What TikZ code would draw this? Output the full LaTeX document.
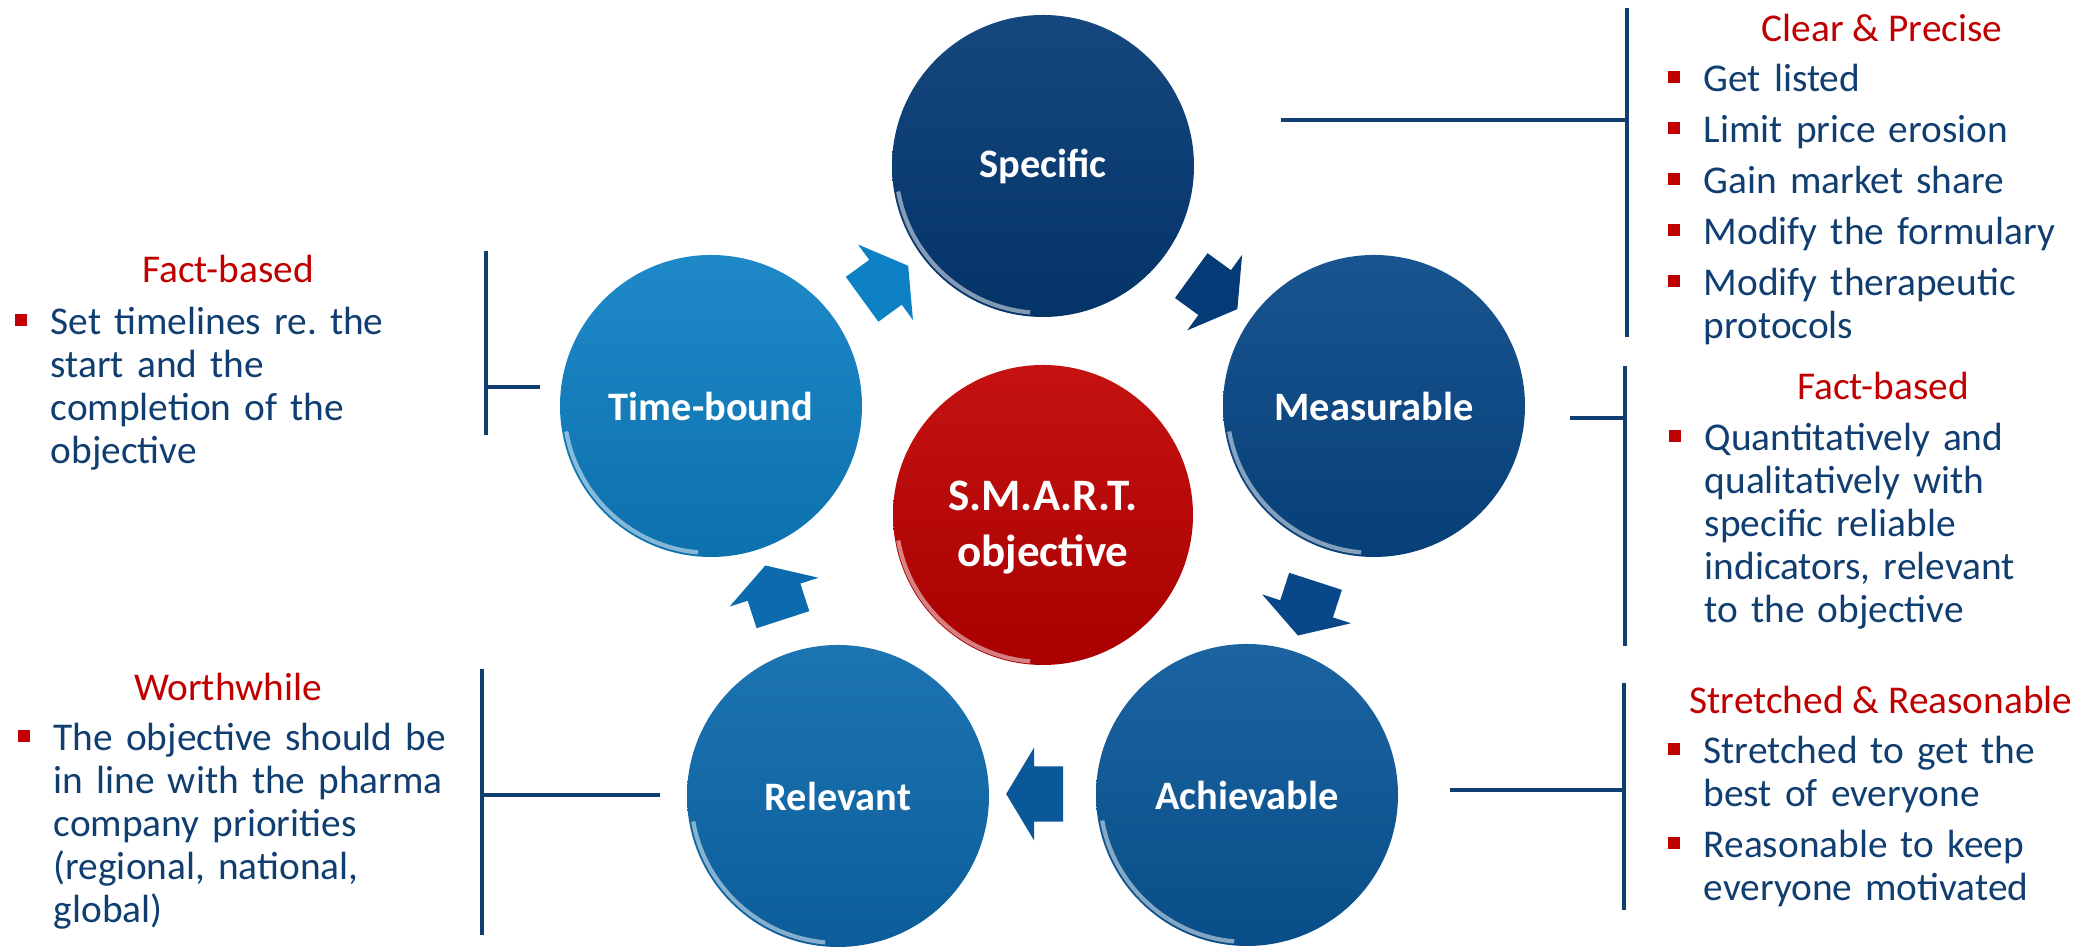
\documentclass[tikz,border=0pt]{standalone}
\usepackage{fontspec}
\setmainfont{Carlito}
\definecolor{smartRed}{RGB}{192,0,0}
\definecolor{smartNavy}{RGB}{16,62,112}
\definecolor{specBlue}{RGB}{4,58,117}
\definecolor{measBlue}{RGB}{8,72,136}
\definecolor{achvBlue}{RGB}{10,88,154}
\definecolor{relvBlue}{RGB}{12,106,174}
\definecolor{timeBlue}{RGB}{14,128,196}
\usepackage{tikz}
\usetikzlibrary{shapes,arrows.meta,positioning,calc}

\newcommand\smartitem[1]{\parskip=0.08cm\hangindent=0.36cm\hangafter=1\noindent
  \makebox[0.36cm][l]{\textcolor{smartRed}{\rule[0.09cm]{0.12cm}{0.12cm}}}#1\par}

\begin{document}
\begin{tikzpicture}[
    ball/.style={circle, minimum size=3.02cm, inner sep=0pt, text=white,
      font=\bfseries\fontsize{11.5pt}{13pt}\selectfont,
      top color=#1!93!white, bottom color=#1!88!black,
      path picture={\draw[white, opacity=.5, line width=1.2pt]
        ([shift={(190:1.47cm)}]path picture bounding box.center)
        arc[start angle=190, end angle=265, radius=1.47cm];}},
    turn/.style={single arrow, minimum height=0.57cm, minimum width=0.92cm,
      single arrow head extend=0.19cm, single arrow tip angle=118,
      inner xsep=0pt, inner ysep=0.27cm, fill=#1},
    heading/.style={anchor=base, text=smartRed,
      font=\fontsize{11.2pt}{0.43cm}\selectfont},
    points/.style={anchor=base west, text width=4.6cm, align=left, inner sep=0pt,
      text=smartNavy, font=\fontsize{11.2pt}{0.43cm}\selectfont},
    bracket/.style={draw=smartNavy, line width=1pt}]
  \useasboundingbox (0,0) rectangle (21,9.48);

  % The cycle
  \coordinate (cyc) at (10.43,4.34);
  \node[ball=smartRed, minimum size=3.0cm,
        label={[text=white, align=center, yshift=-0.13cm,
                font=\bfseries\fontsize{12.8pt}{0.56cm}\selectfont]center:S.M.A.R.T.\\objective}]
    (smart) at (10.43,4.33) {};
  \node[ball=specBlue] (spec) at (10.43,7.82) {Specific};
  \node[ball=measBlue] (meas) at (13.74,5.42) {Measurable};
  \node[ball=achvBlue] (achv) at (12.47,1.53) {Achievable};
  \node[ball=relvBlue] (relv) at (8.38,1.52) {Relevant};
  \node[ball=timeBlue] (time) at (7.11,5.42) {Time-bound};

  % Block arrows between the steps
  \node[turn=timeBlue, rotate=36] (tospec) at ([shift={(126:2.8)}]cyc) {};
  \node[turn=specBlue, rotate=-36] (tomeas) at ([shift={(54:2.8)}]cyc) {};
  \node[turn=measBlue, rotate=-108] (toachv) at ([shift={(-18:2.8)}]cyc) {};
  \node[turn=achvBlue, rotate=180] (torelv) at ([shift={(-90:2.8)}]cyc) {};
  \node[turn=relvBlue, rotate=108] (totime) at ([shift={(198:2.8)}]cyc) {};

  % Brackets
  \coordinate (specTop) at (16.27,9.40);
  \coordinate (specBot) at (16.27,6.11);
  \coordinate (specStub) at (12.81,8.28);
  \draw[bracket] (specTop) -- (specBot);
  \draw[bracket] (specStub) -- (specStub -| specTop);
  \coordinate (measTop) at (16.25,5.82);
  \coordinate (measBot) at (16.25,3.02);
  \coordinate (measStub) at (15.70,5.30);
  \draw[bracket] (measTop) -- (measBot);
  \draw[bracket] (measStub) -- (measStub -| measTop);
  \coordinate (achvTop) at (16.24,2.65);
  \coordinate (achvBot) at (16.24,0.38);
  \coordinate (achvStub) at (14.50,1.58);
  \draw[bracket] (achvTop) -- (achvBot);
  \draw[bracket] (achvStub) -- (achvStub -| achvTop);
  \coordinate (timeTop) at (4.86,6.97);
  \coordinate (timeBot) at (4.86,5.13);
  \coordinate (timeStub) at (5.40,5.61);
  \draw[bracket] (timeTop) -- (timeBot);
  \draw[bracket] (timeStub) -- (timeStub -| timeTop);
  \coordinate (relvTop) at (4.82,2.79);
  \coordinate (relvBot) at (4.82,0.13);
  \coordinate (relvStub) at (6.60,1.53);
  \draw[bracket] (relvTop) -- (relvBot);
  \draw[bracket] (relvStub) -- (relvStub -| relvTop);

  % Notes
  \node[heading] (specHead) at (18.82,9.06) {Clear \& Precise};
  \node[points] (specNote) at (16.67,8.56)
    {\smartitem{Get listed}\smartitem{Limit price erosion}%
     \smartitem{Gain market share}\smartitem{Modify the formulary}%
     \smartitem{Modify therapeutic\newline protocols}};
  \node[heading] (measHead) at (18.83,5.48) {Fact-based};
  \node[points] (measNote) at (16.68,4.97)
    {\smartitem{Quantitatively and\newline qualitatively with\newline specific reliable\newline indicators, relevant\newline to the objective}};
  \node[heading] (achvHead) at (18.81,2.34) {Stretched \& Reasonable};
  \node[points] (achvNote) at (16.67,1.84)
    {\smartitem{Stretched to get the\newline best of everyone}%
     \smartitem{Reasonable to keep\newline everyone motivated}};
  \node[heading] (timeHead) at (2.28,6.65) {Fact-based};
  \node[points] (timeNote) at (0.14,6.13)
    {\smartitem{Set timelines re.\ the\newline start and the\newline completion of the\newline objective}};
  \node[heading] (relvHead) at (2.28,2.47) {Worthwhile};
  \node[points] (relvNote) at (0.17,1.97)
    {\smartitem{The objective should be\newline in line with the pharma\newline company priorities\newline (regional, national,\newline global)}};
\end{tikzpicture}
\end{document}
